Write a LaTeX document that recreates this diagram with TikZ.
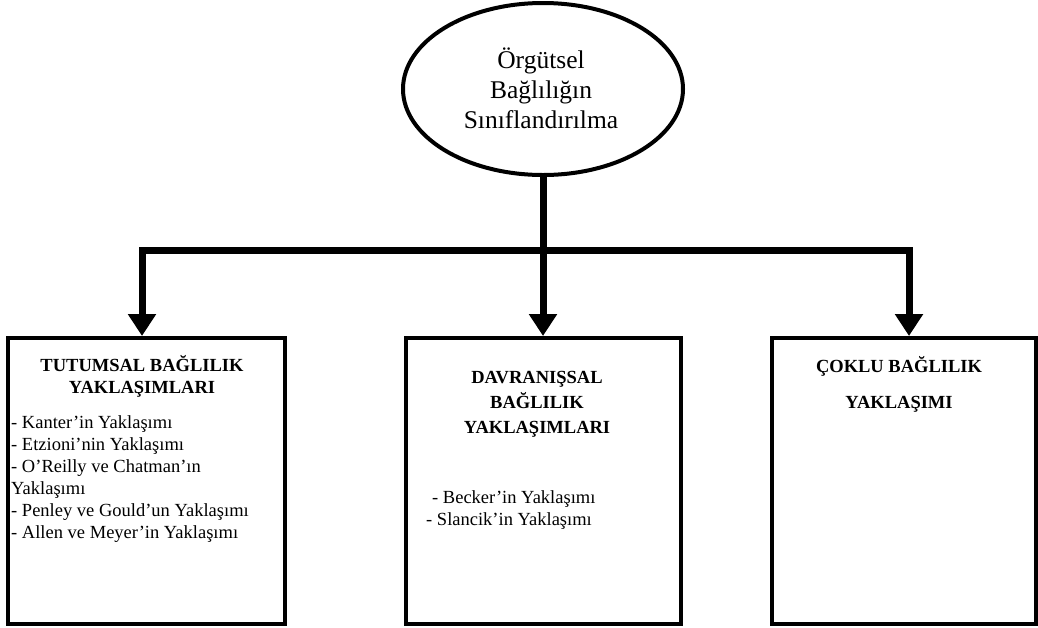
\documentclass[tikz,border=0pt]{standalone}
\usepackage{fontspec}
\setmainfont{Liberation Serif}
\usetikzlibrary{arrows.meta,shapes.geometric}
\begin{document}
\begin{tikzpicture}[x=1pt,y=-1pt,
  boxstyle/.style={draw,line width=4pt,rectangle,inner sep=0pt,minimum height=286pt},
  conn/.style={line width=7pt},
  arr/.style={line width=7pt,line join=miter,-{Triangle[length=22pt,width=27pt]}},
  ttl/.style={font=\fontsize{18.5}{22}\selectfont\bfseries,align=center,inner sep=0pt,anchor=north},
  lst/.style={font=\fontsize{18.5}{22}\selectfont,align=left,inner sep=0pt,anchor=north west}]
\useasboundingbox (0,0) rectangle (1038,627);
% central ellipse
\node[draw,ellipse,line width=4pt,minimum width=280pt,minimum height=172pt,inner sep=0pt] (top) at (543,89) {};
\node[font=\fontsize{25.5}{30}\selectfont,align=center,inner sep=0pt,anchor=north] (topT) at (541,48) {Örgütsel\\Bağlılığın\\Sınıflandırılma};
% boxes
\node[boxstyle,minimum width=277pt] (tut) at (146.5,481) {};
\node[boxstyle,minimum width=275pt] (dav) at (543.5,481) {};
\node[boxstyle,minimum width=264pt] (cok) at (904,481) {};
% junction coordinates
\coordinate (jL) at (142,250);
\coordinate (jM) at (543,250);
\coordinate (jR) at (909,250);
% connectors
\draw[conn] (top.south) -- (jM);
\draw[arr] (jM) -- (jL) -- (jL |- tut.north);
\draw[arr] (jM) -- (jR) -- (jR |- cok.north);
\draw[arr] (jM) -- (jM |- dav.north);
% texts
\node[ttl] (tutT) at (142,355) {TUTUMSAL BAĞLILIK\\YAKLAŞIMLARI};
\node[lst] (tutL) at (11,415.5) {- Kanter’in Yaklaşımı\\- Etzioni’nin Yaklaşımı\\- O’Reilly ve Chatman’ın\\Yaklaşımı\\- Penley ve Gould’un Yaklaşımı\\- Allen ve Meyer’in Yaklaşımı};
\node[ttl,font=\fontsize{18.5}{25}\selectfont\bfseries] (davT) at (537,371.5) {DAVRANIŞSAL\\BAĞLILIK\\YAKLAŞIMLARI};
\node[lst] (davL) at (426,490.5) {\hspace{6pt}- Becker’in Yaklaşımı\\- Slancik’in Yaklaşımı};
\node[ttl,font=\fontsize{18.5}{36}\selectfont\bfseries] (cokT) at (899,356) {ÇOKLU BAĞLILIK\\YAKLAŞIMI};
\end{tikzpicture}
\end{document}
